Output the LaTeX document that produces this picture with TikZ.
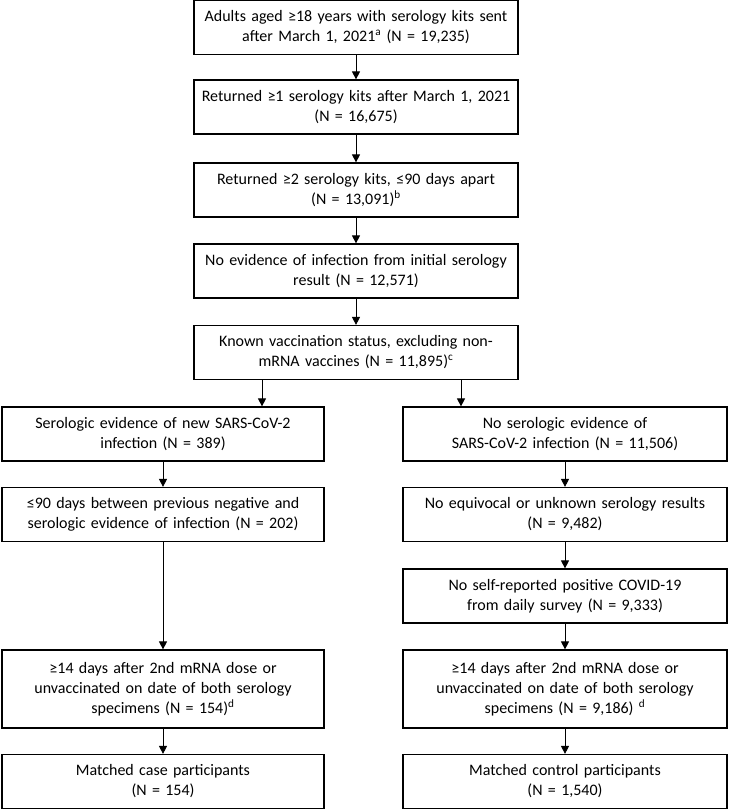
\documentclass[tikz,border=0pt]{standalone}
\usepackage{fontspec}
\setmainfont{Carlito}
\usetikzlibrary{arrows.meta}
\begin{document}
\begin{tikzpicture}[x=1pt,y=-1pt,
  box/.style={draw, line width=1.2pt, minimum height=54pt, align=center, font=\fontsize{16}{20}\selectfont, inner sep=2pt},
  topbox/.style={box, minimum width=324pt, text width=316pt},
  lbox/.style={box, minimum width=322pt, text width=314pt},
  rbox/.style={box, minimum width=324pt, text width=316pt},
  arr/.style={-{Triangle[length=8pt,width=8pt]}, line width=0.9pt}]
\useasboundingbox (0,0) rectangle (728,810);
\node[topbox] (b1) at (356,27.5) {Adults aged ≥18 years with serology kits sent\\after March 1, 2021\textsuperscript{a} (N = 19,235)};
\node[topbox] (b2) at (356,107) {Returned ≥1 serology kits after March 1, 2021\\(N = 16,675)};
\node[topbox] (b3) at (356,190) {Returned ≥2 serology kits, ≤90 days apart\\(N = 13,091)\textsuperscript{b}};
\node[topbox] (b4) at (356,271) {No evidence of infection from initial serology\\result (N = 12,571)};
\node[topbox] (b5) at (356,352.5) {Known vaccination status, excluding non-\\mRNA vaccines (N = 11,895)\textsuperscript{c}};
\node[lbox] (l1) at (163,434) {Serologic evidence of new SARS-CoV-2\\infection (N = 389)};
\node[lbox] (l2) at (163,514.5) {≤90 days between previous negative and\\serologic evidence of infection (N = 202)};
\node[lbox, minimum height=78pt] (l3) at (163,689) {≥14 days after 2nd mRNA dose or\\unvaccinated on date of both serology\\specimens (N = 154)\textsuperscript{d}};
\node[lbox] (l4) at (163,781.5) {Matched case participants\\(N = 154)};
\node[rbox] (r1) at (565,434) {No serologic evidence of\\SARS-CoV-2 infection (N = 11,506)};
\node[rbox] (r2) at (565,514.5) {No equivocal or unknown serology results\\(N = 9,482)};
\node[rbox] (r3) at (565,596) {No self-reported positive COVID-19\\from daily survey (N = 9,333)};
\node[rbox, minimum height=78pt] (r4) at (565,689) {≥14 days after 2nd mRNA dose or\\unvaccinated on date of both serology\\specimens (N = 9,186) \textsuperscript{d}};
\node[rbox] (r5) at (565,781.5) {Matched control participants\\(N = 1,540)};
\draw[arr] (b1) -- (b2);
\draw[arr] (b2) -- (b3);
\draw[arr] (b3) -- (b4);
\draw[arr] (b4) -- (b5);
\draw[arr] ([xshift=-94pt]b5.south) -- ([xshift=-94pt]b5.south |- l1.north);
\draw[arr] ([xshift=105pt]b5.south) -- ([xshift=105pt]b5.south |- r1.north);
\draw[arr] (l1) -- (l2);
\draw[arr] (l2) -- (l3);
\draw[arr] (l3) -- (l4);
\draw[arr] (r1) -- (r2);
\draw[arr] (r2) -- (r3);
\draw[arr] (r3) -- (r4);
\draw[arr] (r4) -- (r5);
\end{tikzpicture}
\end{document}
